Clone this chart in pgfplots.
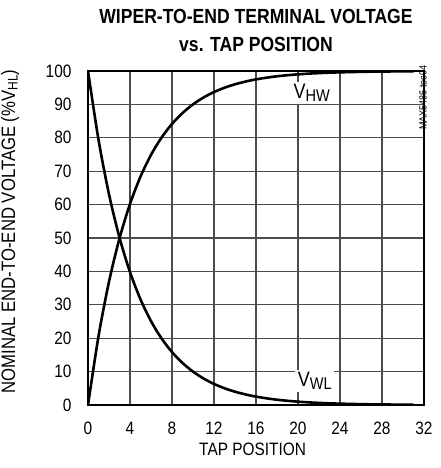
\documentclass[border=0pt]{standalone}
\usepackage{fontspec}
\setmainfont{Liberation Sans}
\newfontfamily\narrowfont[FakeStretch=0.86]{Liberation Sans}
\usepackage{pgfplots}
\pgfplotsset{compat=1.18}

% tap position, V_WL and V_HW in % of V_HL
\pgfplotstableread{
x   wl     hw
0   100.00 0.00
1   79.43  20.57
2   63.10  36.90
3   50.12  49.88
4   39.81  60.19
5   31.62  68.38
6   25.12  74.88
7   19.95  80.05
8   15.85  84.15
9   12.59  87.41
10  10.00  90.00
11  7.94   92.06
12  6.31   93.69
13  5.01   94.99
14  3.98   96.02
15  3.16   96.84
16  2.51   97.49
17  2.00   98.00
18  1.58   98.42
19  1.26   98.74
20  1.00   99.00
21  0.79   99.21
22  0.63   99.37
23  0.50   99.50
24  0.40   99.60
25  0.32   99.68
26  0.25   99.75
27  0.20   99.80
28  0.16   99.84
29  0.13   99.87
30  0.10   99.90
31  0.08   99.92
}\taps

\begin{document}
\begin{tikzpicture}
\begin{axis}[
    at={(0,0)}, anchor=south west,
    scale only axis, width=336bp, height=334bp,
    clip mode=individual,
    xmin=0, xmax=32, ymin=0, ymax=100,
    xtick={0,4,...,32}, ytick={0,10,...,100},
    major tick length=0pt,
    grid=major,
    grid style={black!70, line width=1.1bp},
    axis line style={line width=2.6bp},
    /pgf/number format/assume math mode=true,
    tick label style={font=\narrowfont\fontsize{18}{20}\selectfont},
    xticklabel style={anchor=base, yshift=-30bp},
    yticklabel style={anchor=east, xshift=-13bp},
    xlabel={TAP POSITION},
    xlabel style={at={(axis description cs:0.49,-0.15)}, anchor=base,
        font=\narrowfont\fontsize{18}{20}\selectfont},
    ylabel={NOMINAL END-TO-END VOLTAGE (\%V\raisebox{-0.25ex}{\fontsize{14}{14}\selectfont HL})},
    ylabel style={at={(axis description cs:-0.232,0.52)}, anchor=center,
        font=\narrowfont\fontsize{19.5}{20}\selectfont},
]
\addplot[black, line width=2.6bp, smooth] table[x=x, y=wl] {\taps};
\addplot[black, line width=2.6bp, smooth] table[x=x, y=hw] {\taps};

\node[fill=white, inner sep=2.5bp, font=\narrowfont\fontsize{21}{21}\selectfont]
    at (axis cs:21.3,93.4) {V\raisebox{-0.3ex}{\fontsize{17}{17}\selectfont HW}};
\node[fill=white, inner sep=2.5bp, font=\narrowfont\fontsize{21}{21}\selectfont]
    at (axis cs:21.6,7.2) {V\raisebox{-0.3ex}{\fontsize{17}{17}\selectfont WL}};

\node[anchor=base, font=\narrowfont\bfseries\fontsize{20.5}{20.5}\selectfont]
    at (rel axis cs:0.5,1) [yshift=47bp] {WIPER-TO-END TERMINAL VOLTAGE};
\node[anchor=base, font=\narrowfont\bfseries\fontsize{20.5}{20.5}\selectfont]
    at (rel axis cs:0.5,1) [yshift=19bp] {vs. TAP POSITION};

\node[rotate=90, anchor=east, font=\narrowfont\fontsize{10.5}{10.5}\selectfont]
    at (rel axis cs:1,1) [xshift=9bp, yshift=1bp] {MAX5486 toc04};
\end{axis}
\pgfresetboundingbox
\path[use as bounding box] (-88bp,-63bp) rectangle (353bp,405bp);
\end{tikzpicture}
\end{document}
